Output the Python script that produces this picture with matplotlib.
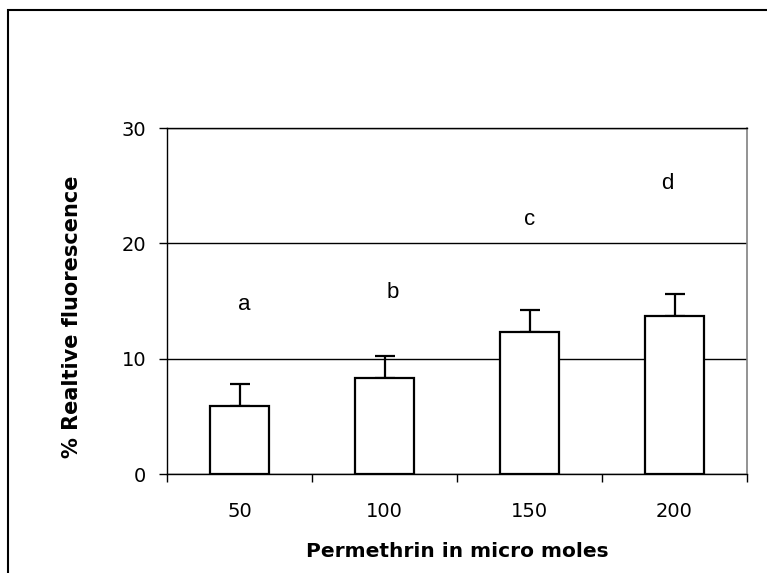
import matplotlib.pyplot as plt
from matplotlib.patches import Rectangle
import numpy as np

plt.rcParams['font.family'] = ['Liberation Sans', 'DejaVu Sans']

doses = ['50', '100', '150', '200']
fluor = [5.9, 8.3, 12.3, 13.7]
err = [1.9, 1.95, 1.9, 1.9]
letters = ['a', 'b', 'c', 'd']
letter_y = [14.2, 15.3, 21.6, 24.7]
letter_dx = [0.03, 0.06, 0.0, -0.05]

fig = plt.figure(figsize=(7.67, 5.73), dpi=100)
fig.patches.append(Rectangle((8/767, -0.05), 1.1, 1 - 10/573 + 0.05, transform=fig.transFigure,
                             fill=False, edgecolor='black', linewidth=1.5, zorder=0))
ax = fig.add_axes([167/767, 1 - 474/573, 580/767, 346/573])

x = np.arange(len(doses))
ax.bar(x, fluor, width=0.41, color='white', edgecolor='black', linewidth=1.6, zorder=3)
ax.errorbar(x, fluor, yerr=[np.zeros(len(err)), err], fmt='none', ecolor='black',
            elinewidth=1.6, capsize=7, capthick=1.6, zorder=2)
for xi, dx, lab, ly in zip(x, letter_dx, letters, letter_y):
    ax.text(xi + dx, ly, lab, ha='center', va='baseline', fontsize=16)

ax.set_xlim(-0.5, 3.5)
ax.set_ylim(0, 30)
ax.set_yticks([0, 10, 20, 30])
ax.yaxis.grid(True, color='black', linewidth=1)
ax.set_axisbelow(True)
ax.set_xticks(x)
ax.set_xticklabels(doses, fontsize=14, family='DejaVu Sans')
ax.set_yticklabels(['0', '10', '20', '30'], fontsize=14, family='DejaVu Sans')
ax.set_xticks(np.arange(-0.5, 4, 1), minor=True)
ax.tick_params(axis='x', which='major', length=0, pad=20)
ax.tick_params(axis='x', which='minor', length=6, width=1, direction='out')
ax.tick_params(axis='y', length=6, width=1, pad=9)

for s in ['left', 'bottom', 'top']:
    ax.spines[s].set_color('black')
    ax.spines[s].set_linewidth(1)
ax.spines['right'].set_color('#808080')
ax.spines['right'].set_linewidth(1.2)

ax.set_xlabel('Permethrin in micro moles', fontsize=14.5, fontweight='bold',
              family='DejaVu Sans', labelpad=15)
fig.text(72/767, 1 - 317/573, '% Realtive fluorescence', rotation=90, ha='center', va='center',
         fontsize=15, fontweight='bold', family='DejaVu Sans')

fig.savefig('out.png', dpi=100)
